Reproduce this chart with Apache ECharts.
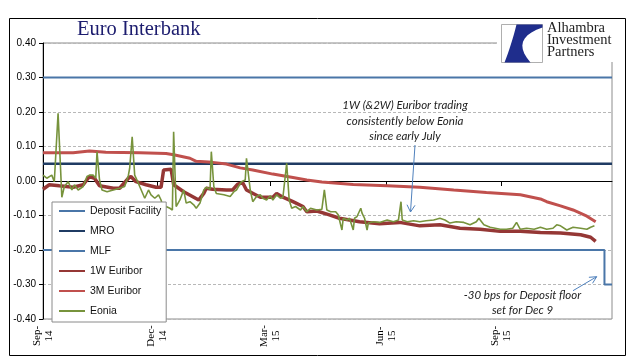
<!DOCTYPE html>
<html><head><meta charset="utf-8">
<script src="https://cdn.jsdelivr.net/npm/echarts@6/dist/echarts.min.js"></script>
<style>html,body{margin:0;padding:0;background:#fff}#c{width:634px;height:361px}</style>
</head><body><div id="c"></div>
<script>
// ---- axis ----
const axisStart = '2014-09-18';
const axisEnd = '2015-12-15';
const tickDates = ['2014-09-18','2014-12-18','2015-03-18','2015-06-18','2015-09-18'];
const tickLabels = ['Sep-\n14','Dec-\n14','Mar-\n15','Jun-\n15','Sep-\n15'];
const yMin = -0.40, yMax = 0.40, yStep = 0.10;

// ---- policy rates ----
const depositDates = ['2014-09-18','2015-12-09','2015-12-15'];
const depositValues = [-0.20, -0.30, -0.30];
const mroDates = ['2014-09-18','2015-12-15'];
const mroValues = [0.05, 0.05];
const mlfDates = ['2014-09-18','2015-12-15'];
const mlfValues = [0.30, 0.30];

// ---- 1W Euribor ----
const w1Dates = ['2014-09-18','2014-09-23','2014-10-01','2014-10-12','2014-10-20','2014-10-25','2014-10-29',
 '2014-11-02','2014-11-13','2014-11-18','2014-11-25','2014-11-27','2014-12-01','2014-12-09','2014-12-17',
 '2014-12-21','2014-12-23','2014-12-29','2014-12-31','2015-01-08','2015-01-16','2015-01-20','2015-01-24',
 '2015-01-26','2015-01-31','2015-02-11','2015-02-16','2015-02-20','2015-02-24','2015-02-27','2015-03-10',
 '2015-03-20','2015-03-23','2015-03-28','2015-04-05','2015-04-13','2015-04-16','2015-04-24','2015-05-04',
 '2015-05-12','2015-05-28','2015-06-13','2015-06-29','2015-07-15','2015-07-31','2015-08-16','2015-09-01',
 '2015-09-17','2015-10-03','2015-10-19','2015-11-04','2015-11-20','2015-11-28','2015-12-02'];
const w1Values = [-0.024,-0.011,-0.014,-0.018,-0.011,0.013,0.008,
 -0.014,-0.021,-0.021,0.008,0.013,-0.002,-0.011,-0.018,
 -0.018,0.032,0.034,-0.011,-0.031,-0.047,-0.055,-0.036,
 -0.021,-0.024,-0.026,-0.026,-0.009,-0.005,-0.026,-0.047,
 -0.047,-0.036,-0.047,-0.060,-0.074,-0.089,-0.087,-0.098,
 -0.108,-0.118,-0.124,-0.120,-0.130,-0.127,-0.137,-0.140,
 -0.146,-0.146,-0.149,-0.151,-0.156,-0.163,-0.175];

// ---- 3M Euribor ----
const m3Dates = ['2014-09-18','2014-10-12','2014-10-25','2014-11-07','2014-12-04','2014-12-25','2014-12-31',
 '2015-01-13','2015-01-18','2015-01-31','2015-02-11','2015-02-22','2015-03-04','2015-03-20','2015-04-05',
 '2015-04-16','2015-04-28','2015-05-23','2015-06-19','2015-07-15','2015-08-11','2015-09-06','2015-10-03',
 '2015-10-19','2015-10-24','2015-11-04','2015-11-14','2015-11-25','2015-12-02'];
const m3Values = [0.082,0.082,0.087,0.083,0.082,0.080,0.076,
 0.066,0.057,0.054,0.049,0.038,0.032,0.020,0.010,
 0.003,-0.003,-0.010,-0.014,-0.018,-0.026,-0.033,-0.040,
 -0.052,-0.060,-0.072,-0.084,-0.102,-0.118];

// ---- Eonia ----
const eoniaDates = [
 '2014-09-18','2014-09-21','2014-09-25','2014-09-27','2014-09-30',
 '2014-10-03','2014-10-05','2014-10-08','2014-10-11','2014-10-13','2014-10-16','2014-10-20','2014-10-23','2014-10-25','2014-10-28','2014-10-30','2014-10-31',
 '2014-11-02','2014-11-04','2014-11-08','2014-11-13','2014-11-18','2014-11-22','2014-11-25','2014-11-26','2014-11-28','2014-11-30',
 '2014-12-03','2014-12-04','2014-12-08','2014-12-11','2014-12-13','2014-12-16','2014-12-19','2014-12-21','2014-12-23','2014-12-25','2014-12-28','2014-12-30','2014-12-31',
 '2015-01-02','2015-01-05','2015-01-08','2015-01-10','2015-01-13','2015-01-16','2015-01-18','2015-01-21','2015-01-24','2015-01-26','2015-01-29','2015-01-30',
 '2015-02-01','2015-02-03','2015-02-09','2015-02-14','2015-02-17','2015-02-19','2015-02-23','2015-02-26','2015-02-27',
 '2015-03-02','2015-03-04','2015-03-07','2015-03-10','2015-03-12','2015-03-15','2015-03-18','2015-03-20','2015-03-23','2015-03-26','2015-03-28','2015-03-31',
 '2015-04-02','2015-04-04','2015-04-07','2015-04-11','2015-04-13','2015-04-16','2015-04-19','2015-04-24','2015-04-28','2015-04-30',
 '2015-05-02','2015-05-05','2015-05-09','2015-05-11','2015-05-14','2015-05-15','2015-05-18','2015-05-20','2015-05-23','2015-05-24','2015-05-26','2015-05-29','2015-05-30',
 '2015-06-01','2015-06-03','2015-06-04','2015-06-08','2015-06-13','2015-06-19','2015-06-24','2015-06-28','2015-06-30',
 '2015-07-01','2015-07-05','2015-07-10','2015-07-15','2015-07-20','2015-07-26','2015-07-31',
 '2015-08-04','2015-08-08','2015-08-13','2015-08-19','2015-08-24','2015-08-29','2015-08-31',
 '2015-09-04','2015-09-09','2015-09-17','2015-09-22','2015-09-27','2015-09-30',
 '2015-10-03','2015-10-08','2015-10-14','2015-10-19','2015-10-24','2015-10-29',
 '2015-11-01','2015-11-04','2015-11-09','2015-11-14','2015-11-20','2015-11-25','2015-11-28',
 '2015-12-01'];
const eoniaValues = [
 0.017,0.008,0.017,-0.002,0.196,
 -0.047,-0.016,-0.002,-0.026,-0.011,-0.026,-0.016,0.013,0.017,0.017,0.008,0.085,
 0.003,-0.026,-0.031,-0.026,-0.021,-0.016,0.017,0.037,0.128,0.017,
 -0.007,-0.016,-0.050,-0.026,-0.040,-0.050,-0.040,-0.055,-0.084,-0.074,-0.079,-0.084,0.143,
 -0.074,-0.055,-0.026,-0.064,-0.060,-0.069,-0.079,-0.064,-0.026,-0.018,-0.024,0.085,
 -0.016,-0.036,-0.040,-0.045,-0.031,-0.026,-0.002,0.003,0.066,
 -0.026,-0.060,-0.045,-0.040,-0.050,-0.055,-0.043,-0.055,-0.040,-0.050,-0.047,0.051,
 -0.055,-0.079,-0.074,-0.084,-0.074,-0.089,-0.079,-0.084,-0.082,-0.026,
 -0.084,-0.089,-0.089,-0.098,-0.142,-0.108,-0.113,-0.108,-0.142,-0.108,-0.103,-0.079,-0.093,
 -0.108,-0.142,-0.122,-0.118,-0.120,-0.113,-0.118,-0.113,-0.060,
 -0.113,-0.118,-0.115,-0.118,-0.115,-0.113,-0.108,
 -0.113,-0.122,-0.118,-0.120,-0.127,-0.118,-0.108,
 -0.127,-0.134,-0.140,-0.140,-0.137,-0.120,
 -0.140,-0.137,-0.140,-0.134,-0.140,-0.137,
 -0.127,-0.130,-0.142,-0.134,-0.137,-0.140,-0.134,
 -0.130];

const legendNames = ['Deposit Facility','MRO','MLF','1W Euribor','3M Euribor','Eonia'];

// ---- helpers ----
function dayOf(s){ const p = s.split('-').map(Number); const q = axisStart.split('-').map(Number);
  return Math.round((Date.UTC(p[0],p[1]-1,p[2]) - Date.UTC(q[0],q[1]-1,q[2]))/86400000); }
function pairs(ds, vs){ return ds.map((d,i)=>[dayOf(d), vs[i]]); }
const tickDays = tickDates.map(dayOf);

// logo swoosh outline (quadratic curves sampled)
function quad(p0, c, p1, n){ const out=[]; for(let i=0;i<=n;i++){const t=i/n, a=(1-t)*(1-t), b=2*(1-t)*t, d=t*t;
  out.push([a*p0[0]+b*c[0]+d*p1[0], a*p0[1]+b*c[1]+d*p1[1]]);} return out; }
const swoosh = [[15,0],[41,0]].concat(quad([41,3],[8,14],[29,38],10)).concat(quad([3,38],[10,20],[15,0],8));

const chart = echarts.init(document.getElementById('c'), null, {renderer:'canvas'});
const lineS = (name, ds, vs, color, width, extra) => Object.assign({
  name, type:'line', data: pairs(ds, vs), symbol:'none', showSymbol:false,
  lineStyle:{color, width}, itemStyle:{color}, animation:false, silent:true
}, extra||{});

const annFont = {fontFamily:'Lato', fontStyle:'italic', fontSize:11.5, fill:'#222', textAlign:'center'};
chart.setOption({
  animation:false,
  backgroundColor:'#fff',
  grid:{left:43, right:22, top:43, bottom:42, show:true, borderColor:'#8c8c8c', borderWidth:1, backgroundColor:'transparent'},
  xAxis:{
    type:'value', min:0, max:dayOf(axisEnd),
    axisLine:{show:true, lineStyle:{color:'#000', width:1}},
    axisTick:{show:true, customValues:tickDays, length:5, lineStyle:{color:'#000'}},
    axisLabel:{customValues:tickDays, formatter:v=>{const i=tickDays.indexOf(Math.round(v)); return i>=0?tickLabels[i]:'';},
      rotate:90, align:'center', verticalAlign:'middle', margin:17,
      fontFamily:'Liberation Serif', fontSize:11, lineHeight:12, color:'#000'},
    splitLine:{show:false}
  },
  yAxis:{
    type:'value', min:yMin, max:yMax, interval:yStep,
    axisLine:{show:true, lineStyle:{color:'#000', width:1}},
    axisTick:{show:true, length:4, lineStyle:{color:'#000'}},
    axisLabel:{formatter:v=>Math.abs(v)<1e-9?'0.00':v.toFixed(2), fontFamily:'Liberation Sans', fontSize:10, color:'#000', margin:7},
    splitLine:{show:true, lineStyle:{color:'#b8b8b8', type:[3,2], width:1}}
  },
  legend:{
    data:legendNames, orient:'vertical', left:52, top:202,
    padding:[3,5,5,6], itemGap:8, itemWidth:26, itemHeight:12,
    itemStyle:{opacity:0, borderWidth:0},
    backgroundColor:'#fff', borderColor:'#8a8a8a', borderWidth:1, borderRadius:0,
    textStyle:{fontFamily:'Liberation Sans', fontSize:10.5, color:'#111', lineHeight:12},
    selectedMode:false
  },
  series:[
    lineS('Deposit Facility', depositDates, depositValues, '#4a76a8', 2, {step:'end'}),
    lineS('MRO', mroDates, mroValues, '#1f3b63', 2.5),
    lineS('MLF', mlfDates, mlfValues, '#4a76a8', 2),
    lineS('1W Euribor', w1Dates, w1Values, '#953735', 3.5),
    lineS('3M Euribor', m3Dates, m3Values, '#c0504d', 3),
    lineS('Eonia', eoniaDates, eoniaValues, '#77933c', 1.6)
  ],
  graphic:[
    {type:'rect', z:0, silent:true, shape:{x:9.5, y:18.5, width:616, height:337}, style:{fill:null, stroke:'#000', lineWidth:1}},
    {type:'text', z:100, silent:true, x:77, y:29.5, style:{text:'Euro Interbank', fontFamily:'Liberation Serif', fontSize:20.5, fill:'#1c1c6e', textVerticalAlign:'middle'}},
    // logo
    {type:'rect', z:100, silent:true, shape:{x:497, y:19, width:127, height:43}, style:{fill:'#fff', stroke:null}},
    {type:'rect', z:101, silent:true, shape:{x:501.5, y:24.5, width:41, height:38}, style:{fill:'#fff', stroke:'#9a9a9a', lineWidth:0.8}},
    {type:'polygon', z:102, silent:true, x:501.5, y:24.5, shape:{points:swoosh}, style:{fill:'#1f2d8c'}},
    {type:'text', z:102, silent:true, x:547, y:36, style:{text:'Alhambra', fontFamily:'Liberation Serif', fontSize:14.5, fill:'#222', textVerticalAlign:'bottom'}},
    {type:'text', z:102, silent:true, x:547, y:48, style:{text:'Investment', fontFamily:'Liberation Serif', fontSize:14.5, fill:'#222', textVerticalAlign:'bottom'}},
    {type:'text', z:102, silent:true, x:547, y:60, style:{text:'Partners', fontFamily:'Liberation Serif', fontSize:14.5, fill:'#222', textVerticalAlign:'bottom'}},
    // annotation 1
    {type:'text', z:100, silent:true, x:405, y:98, style:Object.assign({text:'1W (&2W) Euribor trading\nconsistently below Eonia\nsince early July', lineHeight:15.5, textVerticalAlign:'top'}, annFont)},
    {type:'line', z:100, silent:true, shape:{x1:415, y1:145, x2:410.5, y2:212}, style:{stroke:'#4f81bd', lineWidth:1}},
    {type:'polyline', z:100, silent:true, shape:{points:[[407,204.7],[410.5,212],[415,205.3]]}, style:{stroke:'#4f81bd', lineWidth:1, fill:null}},
    // annotation 2
    {type:'text', z:100, silent:true, x:522.5, y:287.5, style:Object.assign({text:'-30 bps for Deposit floor\nset for Dec 9', lineHeight:15, textVerticalAlign:'top'}, annFont)},
    {type:'line', z:100, silent:true, shape:{x1:573, y1:290.7, x2:596.7, y2:276.7}, style:{stroke:'#4f81bd', lineWidth:1}},
    {type:'polyline', z:100, silent:true, shape:{points:[[592.5,283.3],[596.7,276.7],[588.9,277.3]]}, style:{stroke:'#4f81bd', lineWidth:1, fill:null}}
  ]
});
</script>
</body></html>
